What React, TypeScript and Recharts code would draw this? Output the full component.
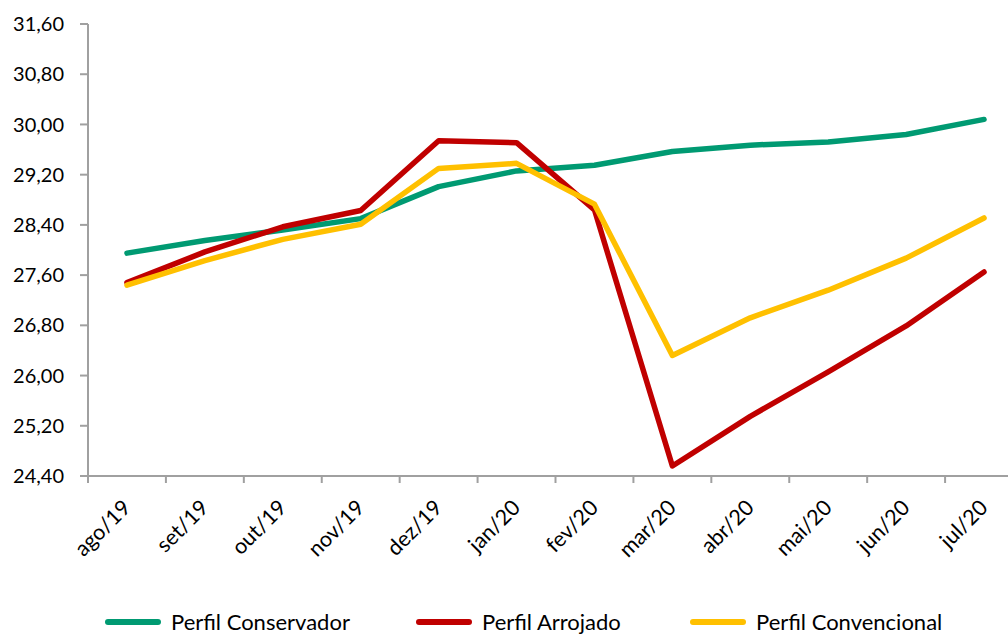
import { LineChart, Line, XAxis, YAxis, Legend } from 'recharts';

const months = ['ago/19', 'set/19', 'out/19', 'nov/19', 'dez/19', 'jan/20', 'fev/20', 'mar/20', 'abr/20', 'mai/20', 'jun/20', 'jul/20'];
const conservador = [27.95, 28.15, 28.32, 28.50, 29.01, 29.26, 29.35, 29.57, 29.67, 29.72, 29.84, 30.08];
const arrojado = [27.48, 27.97, 28.37, 28.63, 29.74, 29.71, 28.64, 24.56, 25.35, 26.06, 26.79, 27.65];
const convencional = [27.44, 27.83, 28.17, 28.41, 29.30, 29.38, 28.73, 26.32, 26.92, 27.36, 27.87, 28.51];
const yTicks = [24.4, 25.2, 26.0, 26.8, 27.6, 28.4, 29.2, 30.0, 30.8, 31.6];

const series = [
    { key: 'conservador', name: 'Perfil Conservador', color: '#009a72' },
    { key: 'arrojado', name: 'Perfil Arrojado', color: '#c00000' },
    { key: 'convencional', name: 'Perfil Convencional', color: '#ffc000' },
];

const data = months.map((m, i) => ({
    name: m,
    conservador: conservador[i],
    arrojado: arrojado[i],
    convencional: convencional[i],
}));

const font = 'Lato, "Open Sans", sans-serif';
const axisGrey = '#a0a0a0';

// the chart is a bit wider than the window, the last category gets clipped like in the original
const chartW = 1023;
const yAxisW = 88;
const step = (chartW - yAxisW) / months.length;

// label plus the tick marks between months (Excel style "between tick marks")
const MonthTick = (props: any) => {
    const { x, y, payload, index } = props;
    const last = index === months.length - 1;
    return (
        <g>
            <line x1={x - step / 2} x2={x - step / 2} y1={y} y2={y + 7} stroke={axisGrey} strokeWidth={2} />
            {last && <line x1={x + step / 2} x2={x + step / 2} y1={y} y2={y + 7} stroke={axisGrey} strokeWidth={2} />}
            <g transform={`translate(${x + 5},${y + 33})`}>
                <text x={0} y={0} textAnchor="end" transform="rotate(-45)" fill="#000" fontSize={21.5} fontFamily={font}>
                    {payload.value}
                </text>
            </g>
        </g>
    );
};

// fixed slot widths so the legend items land where the original has them
const slots = [311, 274, 300];

const LegendBox = () => (
    <div style={{ display: 'flex', paddingLeft: 105, paddingTop: 12, fontFamily: font, fontSize: 22, color: '#000' }}>
        {series.map((s, i) => (
            <div key={s.key} style={{ width: slots[i], display: 'flex', alignItems: 'center' }}>
                <span style={{ display: 'inline-block', width: 56, height: 6, borderRadius: 3, background: s.color, marginRight: 10 }} />
                <span>{s.name}</span>
            </div>
        ))}
    </div>
);

export default function App() {
    return (
        <div style={{ position: 'absolute', left: 0, top: 0, width: 1008, height: 636, overflow: 'hidden', background: '#fff' }}>
            <LineChart width={chartW} height={636} data={data} margin={{ top: 24, right: 0, bottom: 0, left: 0 }}>
                <XAxis
                    dataKey="name"
                    height={120}
                    interval={0}
                    padding={{ left: step / 2, right: step / 2 }}
                    tick={<MonthTick />}
                    tickSize={0}
                    tickMargin={0}
                    axisLine={{ stroke: axisGrey, strokeWidth: 2 }}
                    tickLine={false}
                />
                <YAxis
                    width={yAxisW}
                    domain={[24.4, 31.6]}
                    ticks={yTicks}
                    interval={0}
                    tickFormatter={(v: number) => v.toFixed(2).replace('.', ',')}
                    tick={{ fill: '#000', fontSize: 20, fontFamily: font }}
                    tickSize={8}
                    tickMargin={16}
                    axisLine={{ stroke: axisGrey, strokeWidth: 2 }}
                    tickLine={{ stroke: axisGrey, strokeWidth: 2 }}
                />
                <Legend verticalAlign="bottom" content={<LegendBox />} wrapperStyle={{ height: 40 }} />
                {series.map((s) => (
                    <Line
                        key={s.key}
                        name={s.name}
                        dataKey={s.key}
                        stroke={s.color}
                        strokeWidth={5.5}
                        strokeLinecap="round"
                        strokeLinejoin="round"
                        dot={false}
                        activeDot={false}
                        isAnimationActive={false}
                    />
                ))}
            </LineChart>
        </div>
    );
}
